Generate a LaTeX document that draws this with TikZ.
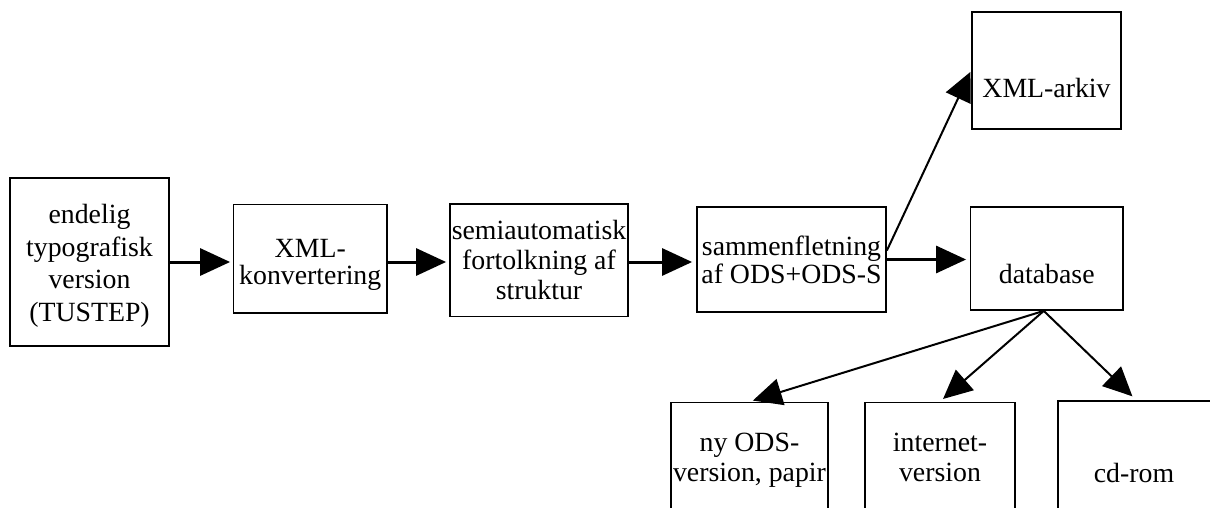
\documentclass[tikz,border=0pt]{standalone}
\usepackage{fontspec}
\setmainfont{Liberation Serif}
\usetikzlibrary{arrows.meta}
\begin{document}
\begin{tikzpicture}[x=1pt,y=-1pt,
  box/.style={draw,line width=1.8pt,inner sep=0pt,rectangle},
  txt/.style={inner sep=0pt,align=center},
  flow/.style={line width=3pt,-{Triangle[length=30pt,width=27pt]}},
  branch/.style={line width=2pt,-{Triangle[length=29pt,width=27pt]}}]
\useasboundingbox (0,0) rectangle (1210,508);
\clip (0,0) rectangle (1210,508);
% boxes
\node[box,minimum width=159pt,minimum height=168pt] (b1) at (89.5,262) {};
\node[box,minimum width=153.5pt,minimum height=108.8pt] (b2) at (310.25,258.9) {};
\node[box,minimum width=178pt,minimum height=112.5pt] (b3) at (539,260.25) {};
\node[box,minimum width=189pt,minimum height=105pt] (b4) at (791.5,259.5) {};
\node[box,minimum width=149pt,minimum height=117pt] (b5) at (1046.5,70.5) {};
\node[box,minimum width=152.5pt,minimum height=103pt] (b6) at (1046.75,258.5) {};
\node[box,minimum width=157pt,minimum height=137.5pt] (b7) at (749.5,471.25) {};
\node[box,minimum width=150pt,minimum height=137.5pt] (b8) at (940,471.25) {};
\node[box,minimum width=156pt,minimum height=139.3pt] (b9) at (1136,470.35) {};
% texts
\node[txt,font=\fontsize{27.8}{32.6}\selectfont] (t1) at (89.5,266) {endelig\\typografisk\\version\\(TUSTEP)};
\node[txt,font=\fontsize{27.8}{26.5}\selectfont] (t2) at (310.25,265) {XML-\\konvertering};
\node[txt,font=\fontsize{27.8}{30}\selectfont] (t3) at (539,260) {semiautomatisk\\fortolkning af\\struktur};
\node[txt,font=\fontsize{27.8}{28}\selectfont] (t4) at (791.5,259.7) {sammenfletning\\af ODS+ODS-S};
\node[txt,font=\fontsize{27.8}{30}\selectfont] (t5) at (1046.5,87.5) {XML-arkiv};
\node[txt,font=\fontsize{27.8}{30}\selectfont] (t6) at (1046.75,274) {database};
\node[txt,font=\fontsize{27.8}{30}\selectfont] (t7) at (749.5,460.5) {ny ODS-\\version, papir};
\node[txt,font=\fontsize{27.8}{30}\selectfont] (t8) at (940,457.5) {internet-\\version};
\node[txt,font=\fontsize{27.8}{30}\selectfont] (t9) at (1134,472.5) {cd-rom};
% connectors
\draw[flow,shorten >=2.5pt] (b1.east) -- (b1.east -| b2.west);
\draw[flow,shorten >=3pt] (b2.east |- b1.east) -- (b1.east -| b3.west);
\draw[flow,shorten >=4pt] (b3.east |- b1.east) -- (b1.east -| b4.west);
\draw[flow,shorten >=3.5pt] (b4.east) -- (b4.east -| b6.west);
\draw[branch,shorten >=1.5pt] ([yshift=9pt]b4.east) -- (b5.west);
\coordinate (fan) at ([xshift=-3pt]b6.south);
\draw[branch,shorten >=3.5pt] (fan) -- (b7.north);
\draw[branch,shorten >=4pt] (fan) -- (b8.north);
\draw[branch,shorten >=5pt] (fan) -- (b9.north);
\end{tikzpicture}
\end{document}
